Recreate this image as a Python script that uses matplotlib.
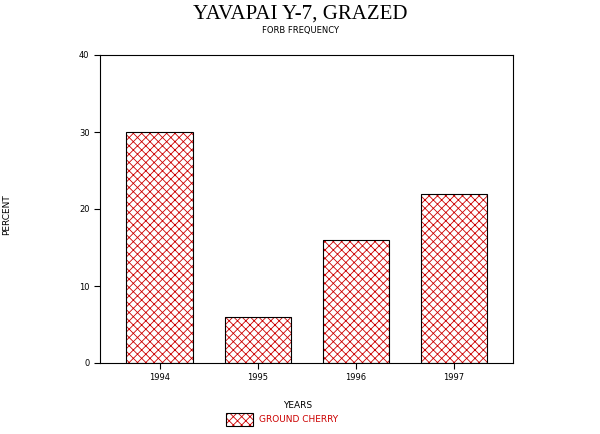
import matplotlib
matplotlib.use("Agg")
import matplotlib.pyplot as plt
from matplotlib.patches import Rectangle

years = ["1994", "1995", "1996", "1997"]
percent = [30, 6, 16, 22]
yticks = [0, 10, 20, 30, 40]

plt.rcParams["hatch.linewidth"] = 0.6
fig = plt.figure(figsize=(6, 4.34), dpi=100)
ax = fig.add_axes([100 / 600, 1 - 363 / 434, 413 / 600, 308 / 434])

x = range(len(years))
ax.bar(x, percent, width=0.68, color="white", edgecolor="#cc0000", hatch="xxxx", linewidth=0)
ax.bar(x, percent, width=0.68, fill=False, edgecolor="black", linewidth=0.8)

ax.set_xlim(-0.61, 3.6)
ax.set_ylim(0, 40)
ax.set_yticks(yticks)
ax.set_xticks(list(x))
ax.set_xticklabels(years)
ax.tick_params(labelsize=6, direction="out", length=4, width=0.8)
for s in ax.spines.values():
    s.set_linewidth(0.8)

fig.text(0.5, 1 - 14 / 434, "YAVAPAI Y-7, GRAZED", ha="center", va="center",
         family="Liberation Serif", fontsize=15)
fig.text(0.5, 1 - 30 / 434, "FORB FREQUENCY", ha="center", va="center", fontsize=6)
fig.text(7 / 600, 1 - 215 / 434, "PERCENT", rotation=90, ha="center", va="center", fontsize=6.5)
fig.text(298 / 600, 1 - 405 / 434, "YEARS", ha="center", va="center", fontsize=6.5)

leg = Rectangle((226 / 600, 1 - 426 / 434), 27 / 600, 13 / 434, transform=fig.transFigure,
                facecolor="white", edgecolor="#cc0000", hatch="xxxx", linewidth=0)
fig.patches.append(leg)
fig.patches.append(Rectangle((226 / 600, 1 - 426 / 434), 27 / 600, 13 / 434,
                             transform=fig.transFigure, fill=False, edgecolor="black", linewidth=0.8))
fig.text(259 / 600, 1 - 420 / 434, "GROUND CHERRY", ha="left", va="center",
         fontsize=6.5, color="#cc0000")

fig.savefig("out.png", dpi=100)
